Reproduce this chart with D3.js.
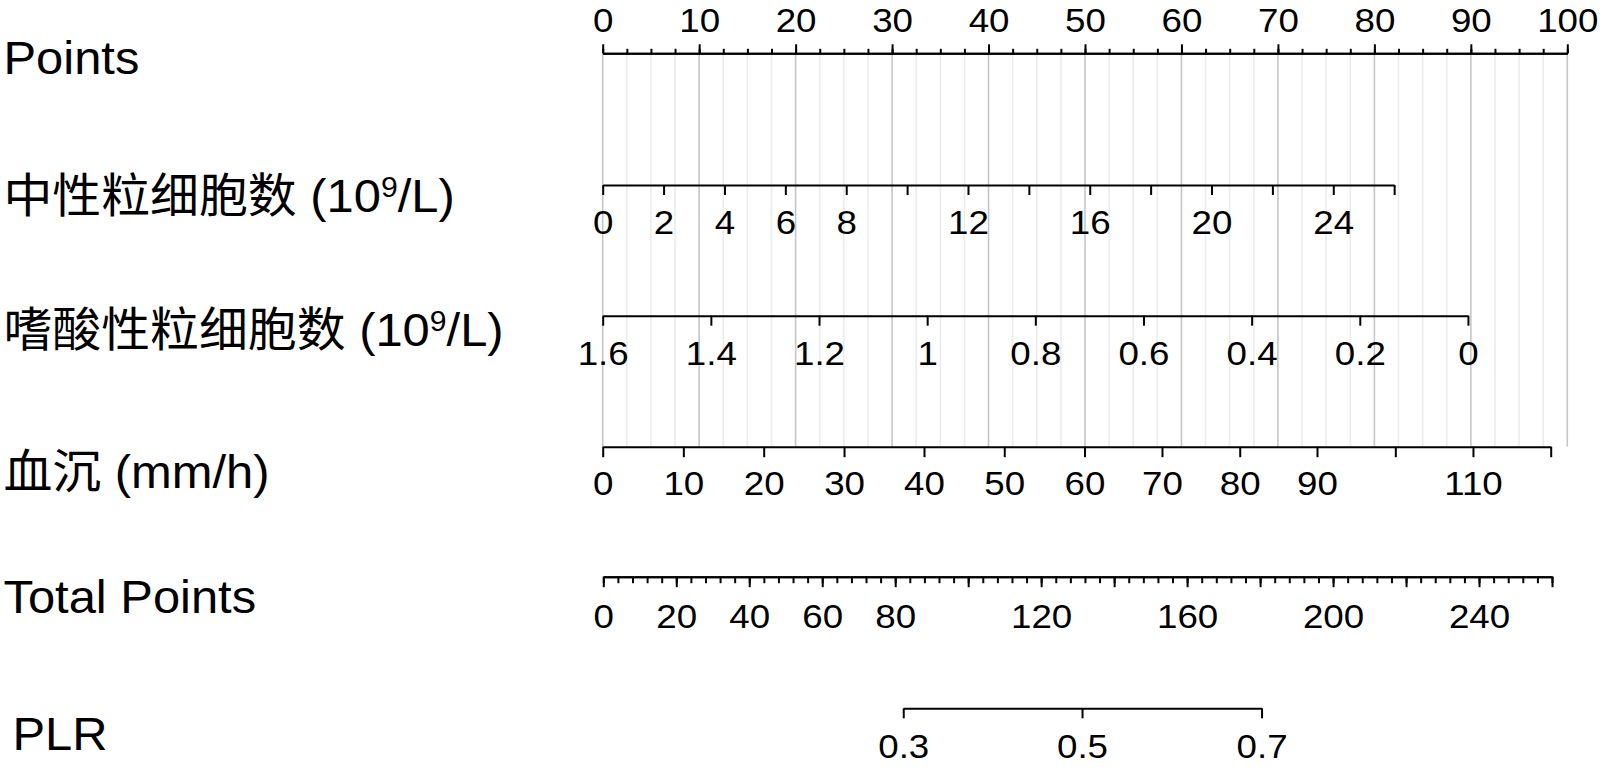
<!DOCTYPE html>
<html><head><meta charset="utf-8">
<script src="https://cdn.jsdelivr.net/npm/d3@7"></script>
<style>
html,body{margin:0;padding:0;background:#fff;}
svg text{font-family:"Liberation Sans",Arial,"Noto Sans CJK SC",sans-serif;fill:#000;}
svg .tick text{font-size:34px;}
svg .lab{font-size:47px;}
</style></head><body>
<svg id="chart" width="1600" height="767"></svg>
<script>
// ---------- data ----------
const pointsMajor = [0,10,20,30,40,50,60,70,80,90,100];
const pointsMinor = [0,2.5,5,7.5,10,12.5,15,17.5,20,22.5,25,27.5,30,32.5,35,37.5,40,42.5,45,47.5,50,52.5,55,57.5,60,62.5,65,67.5,70,72.5,75,77.5,80,82.5,85,87.5,90,92.5,95,97.5,100];

const neutTicks = [0,2,4,6,8,10,12,14,16,18,20,22,24,26];
const neutLabels = [0,2,4,6,8,12,16,20,24];
const neutRange = [0,26];
const neutPoints = [0,82.05];

const eosTicks = [1.6,1.4,1.2,1,0.8,0.6,0.4,0.2,0];
const eosRange = [1.6,0];
const eosPoints = [0,89.7];

const esrTicks = [0,10,20,30,40,50,60,70,80,90,100,110,120];
const esrPoints = [0,8.36,16.69,25.02,33.31,41.63,49.95,57.98,66.04,74.05,82.17,90.22,98.28];
const esrLabels = [0,10,20,30,40,50,60,70,80,90,110];

const totalMajor = [0,20,40,60,80,100,120,140,160,180,200,220,240,260];
const totalLabels = [0,20,40,60,80,120,160,200,240];
const totalRange = [0,260];

const plrTicks = [0.3,0.5,0.7];
const plrTotals = [82.2,131.2,180.4];

const rowLabels = ["Points","中性粒细胞数","嗜酸性粒细胞数","血沉 (mm/h)","Total Points","PLR"];

// ---------- layout ----------
const rowY = [53.3,185,315.7,446.7,576.7,708.3];
const labelBase = [73.6,211.7,345.5,487.8,612.5,749.5];
const labelX = [3.5,3.5,3.5,3.5,3.5,12.5];
const tickBase = [31.5,234.5,365,495,628,758];
const tickStretch = 1.08, labelStretch = 1.04;

const svg = d3.select("#chart");
const xPts = d3.scaleLinear().domain([0,100]).range([602.7,1567.3]);
const xTot = d3.scaleLinear().domain(totalRange).range([603.3,1552]);

// gridlines
svg.append("g").selectAll("line").data(pointsMinor).join("line")
  .attr("x1",d=>xPts(d)).attr("x2",d=>xPts(d))
  .attr("y1",rowY[0]).attr("y2",rowY[3])
  .attr("stroke",d=>d%10===0?"#c6c6c6":"#ececec")
  .attr("stroke-width",1.6);

function style(g, i){
  g.attr("font-size",null).attr("font-family",null);
  g.select(".domain").attr("stroke","#000").attr("stroke-width",2);
  g.selectAll(".tick line").attr("stroke","#000").attr("stroke-width",2);
  g.selectAll(".tick text").attr("dy",null).attr("y",tickBase[i]-rowY[i])
    .attr("fill","#000").attr("transform",`scale(${tickStretch},1)`);
}
function addAxis(axis, i){
  const g = svg.append("g").attr("transform",`translate(0,${rowY[i]})`).call(axis);
  style(g,i);
  return g;
}

// Points
addAxis(d3.axisTop(xPts).tickValues(pointsMinor).tickSize(4.5).tickSizeOuter(0).tickFormat(""),0);
addAxis(d3.axisTop(xPts).tickValues(pointsMajor).tickSize(9).tickSizeOuter(0).tickFormat(d3.format("d")),0);

// Neutrophils
const xN = d3.scaleLinear().domain(neutRange).range(neutPoints.map(xPts));
addAxis(d3.axisBottom(xN).tickValues(neutTicks).tickSize(10).tickSizeOuter(0)
  .tickFormat(d=>neutLabels.includes(d)?String(d):""),1);

// Eosinophils
const xE = d3.scaleLinear().domain(eosRange).range(eosPoints.map(xPts));
addAxis(d3.axisBottom(xE).tickValues(eosTicks).tickSize(10).tickSizeOuter(0)
  .tickFormat(d=>String(+d.toFixed(1))),2);

// ESR
const xR = d3.scaleLinear().domain(esrTicks).range(esrPoints.map(xPts));
addAxis(d3.axisBottom(xR).tickValues(esrTicks).tickSize(10.5).tickSizeOuter(0)
  .tickFormat(d=>esrLabels.includes(d)?String(d):""),3);

// Total points
addAxis(d3.axisBottom(xTot).tickValues(d3.range(0,261,4)).tickSize(6.5).tickSizeOuter(0).tickFormat(""),4);
addAxis(d3.axisBottom(xTot).tickValues(totalMajor).tickSize(10.5).tickSizeOuter(0)
  .tickFormat(d=>totalLabels.includes(d)?String(d):""),4);

// PLR
const xL = d3.scaleLinear().domain(plrTicks).range(plrTotals.map(xTot));
addAxis(d3.axisBottom(xL).tickValues(plrTicks).tickSize(10).tickSizeOuter(0)
  .tickFormat(d3.format(".1f")),5);

// Row labels
rowLabels.forEach((t,i)=>{
  const txt = svg.append("text").attr("class","lab")
    .attr("transform",`translate(${labelX[i]},${labelBase[i]}) scale(${labelStretch},1)`);
  if(i===1||i===2){
    txt.append("tspan").text(t+" (10");
    txt.append("tspan").attr("font-size","29px").attr("dy","-15").text("9");
    txt.append("tspan").attr("dy","15").text("/L)");
  } else {
    txt.text(t);
  }
});
</script>
</body></html>
